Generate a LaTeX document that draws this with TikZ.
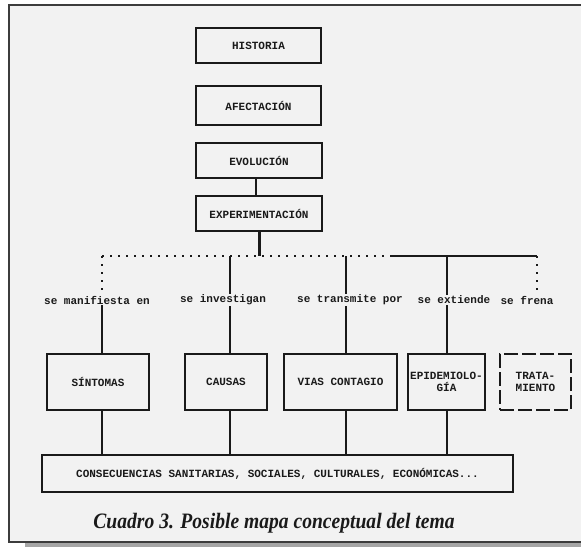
\documentclass[tikz,border=0pt]{standalone}
\usepackage{fontspec}
\setmonofont{Liberation Mono}
\newfontfamily\capfont{Liberation Serif}
\definecolor{paper}{HTML}{F2F2F2}
\definecolor{ink}{HTML}{1A1A1A}
\tikzset{
  box/.style={draw=ink, line width=1.4pt, inner sep=0pt, align=center,
    font=\ttfamily\bfseries\fontsize{11}{12}\selectfont, text=ink},
  lbl/.style={inner sep=1pt, font=\ttfamily\bfseries\fontsize{11}{12}\selectfont, text=ink},
  conn/.style={draw=ink, line width=1.4pt},
  faint/.style={draw=ink, line width=1.2pt, dash pattern=on 2pt off 6pt},
}
\begin{document}
\begin{tikzpicture}[x=1pt,y=-1pt]
\useasboundingbox (0,0) rectangle (581,547);
\fill[white] (0,0) rectangle (581,547);
% frame with shadow
\fill[gray!70] (25,543) rectangle (581,547);
\filldraw[fill=paper, draw=ink!85, line width=1.8pt] (9,5) rectangle (590,542);

% top chain
\node[box, minimum width=125pt, minimum height=35pt] (hist) at (258.5,45.5) {HISTORIA};
\node[box, minimum width=125pt, minimum height=39pt] (afec) at (258.5,105.5) {AFECTACIÓN};
\node[box, minimum width=126pt, minimum height=35pt] (evol) at (259,160.5) {EVOLUCIÓN};
\node[box, minimum width=126pt, minimum height=35pt] (expe) at (259,213.5) {EXPERIMENTACIÓN};
\draw[conn] ([xshift=-3pt]evol.south) -- ([xshift=-3pt]expe.north);

% bus
\coordinate (b1) at (102,256);
\coordinate (b2) at (230,256);
\coordinate (b3) at (346,256);
\coordinate (bm) at (392,256);
\coordinate (b4) at (447,256);
\coordinate (b5) at (537,256);
\draw[draw=ink, line width=3pt] (expe.south) -- (expe.south |- b2);
\draw[faint] (b1) -- (bm);
\draw[conn] (bm) -- (b5);

% labels
\node[lbl] (l1) at (97,300) {se manifiesta en};
\node[lbl] (l2) at (223,300) {se investigan};
\node[lbl] (l3) at (350,300) {se transmite por};
\node[lbl] (l4) at (454,300) {se extiende};
\node[lbl] (l5) at (527,300) {se frena};

% second-level boxes
\node[box, minimum width=102pt, minimum height=56pt] (sint) at (98,382) {SÍNTOMAS};
\node[box, minimum width=82pt, minimum height=56pt] (caus) at (226,382) {CAUSAS};
\node[box, minimum width=113pt, minimum height=56pt] (vias) at (340.5,382) {VIAS CONTAGIO};
\node[box, minimum width=77pt, minimum height=56pt] (epid) at (446.5,382) {EPIDEMIOLO-\\GÍA};
\node[box, minimum width=71pt, minimum height=56pt, dash pattern=on 14pt off 4pt] (trat) at (535.5,382) {TRATA-\\MIENTO};

% bottom box
\node[box, minimum width=471pt, minimum height=37pt] (cons) at (277.5,473.5)
  {CONSECUENCIAS SANITARIAS, SOCIALES, CULTURALES, ECONÓMICAS...};

% drops from bus to labels
\draw[faint] (b1) -- (b1 |- l1.north);
\draw[conn] (b2) -- (b2 |- l2.north);
\draw[conn] (b3) -- (b3 |- l3.north);
\draw[conn] (b4) -- (b4 |- l4.north);
\draw[faint] (b5) -- (b5 |- l5.north);

% labels to boxes
\draw[conn] (l1.south -| b1) -- (b1 |- sint.north);
\draw[conn] (l2.south -| b2) -- (b2 |- caus.north);
\draw[conn] (l3.south -| b3) -- (b3 |- vias.north);
\draw[conn] (l4.south -| b4) -- (b4 |- epid.north);

% boxes to consequences
\draw[conn] (sint.south -| b1) -- (cons.north -| b1);
\draw[conn] (caus.south -| b2) -- (cons.north -| b2);
\draw[conn] (vias.south -| b3) -- (cons.north -| b3);
\draw[conn] (epid.south -| b4) -- (cons.north -| b4);

% caption
\node[inner sep=0pt, text=ink] (cap) at (274,523)
  {\scalebox{0.89}[1]{\capfont\fontsize{22}{24}\selectfont\bfseries\itshape Cuadro 3. Posible mapa conceptual del tema}};
\end{tikzpicture}
\end{document}
